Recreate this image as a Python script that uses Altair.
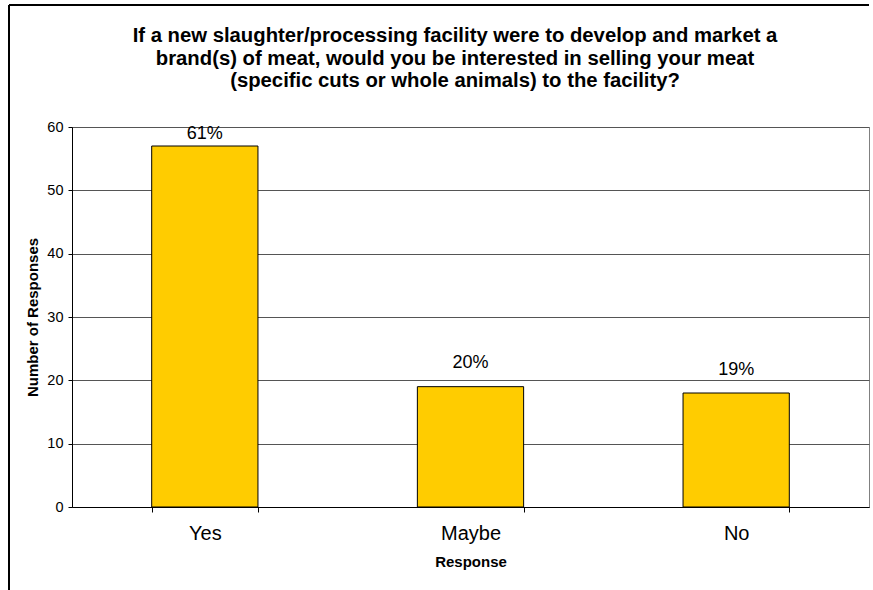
import altair as alt
import pandas as pd

# Survey answers and the number of respondents who gave each one
responses = ["Yes", "Maybe", "No"]
counts = [57, 19, 18]

title_lines = [
    "If a new slaughter/processing facility were to develop and market a",
    "brand(s) of meat, would you be interested in selling your meat",
    "(specific cuts or whole animals) to the facility?",
]

df = pd.DataFrame({"Response": responses, "Count": counts})

FONT = "Liberation Sans"
PLOT_W, PLOT_H = 797, 380

x_enc = alt.X(
    "Response:N",
    sort=responses,
    scale=alt.Scale(paddingInner=0.6, paddingOuter=0.3),
    axis=alt.Axis(
        title="Response",
        labelAngle=0,
        labelFontSize=20,
        labelFont=FONT,
        labelColor="black",
        labelPadding=11,
        tickBand="extent",
        tickSize=5,
        tickColor="black",
        domainColor="black",
        titleFont=FONT,
        titleFontSize=15,
        titleFontWeight="bold",
        titleColor="black",
        titlePadding=11,
        grid=False,
    ),
)

y_enc = alt.Y(
    "Count:Q",
    scale=alt.Scale(domain=[0, 60]),
    axis=alt.Axis(
        title="Number of Responses",
        values=[0, 10, 20, 30, 40, 50, 60],
        labelFontSize=14.5,
        labelFont=FONT,
        labelColor="black",
        labelPadding=5,
        tickSize=4,
        tickColor="black",
        domainColor="black",
        grid=True,
        gridColor="#555555",
        gridWidth=1,
        titleFont=FONT,
        titleFontSize=15,
        titleFontWeight="bold",
        titleColor="black",
        titlePadding=6,
    ),
)

bars = alt.Chart(df).mark_bar(
    color="#FFCC00", stroke="black", strokeWidth=1
).encode(x=x_enc, y=y_enc)

# Share of all responses, written above each bar
labels = (
    alt.Chart(df)
    .transform_joinaggregate(Total="sum(Count)")
    .transform_calculate(
        Pct="round(datum.Count / datum.Total * 100) + '%'",
        LabelY="min(datum.Count + 3.7, 58.9)",
    )
    .mark_text(fontSize=18, font=FONT, color="black", baseline="middle")
    .encode(
        x=alt.X("Response:N", sort=responses),
        y=alt.Y("LabelY:Q"),
        text="Pct:N",
    )
)

# Three-line heading above the plot
heading = alt.Chart(alt.Data(values=[{}])).mark_text(
    font=FONT,
    fontSize=20.3,
    fontWeight="bold",
    color="black",
    align="center",
    baseline="alphabetic",
    lineHeight=22.5,
).encode(x=alt.value(383), y=alt.value(-85), text=alt.value(title_lines))

# Frame lines along the top and left edge of the figure
frame_top = alt.Chart(alt.Data(values=[{}])).mark_rule(
    color="black", strokeWidth=2
).encode(x=alt.value(-63), x2=alt.value(PLOT_W), y=alt.value(-122))

frame_left = alt.Chart(alt.Data(values=[{}])).mark_rule(
    color="black", strokeWidth=2
).encode(x=alt.value(-63), y=alt.value(-122), y2=alt.value(470))

chart = (
    alt.layer(bars, labels, heading, frame_top, frame_left)
    .properties(
        width=PLOT_W,
        height=PLOT_H,
        autosize=alt.AutoSizeParams(type="none"),
        padding={"left": 72, "top": 127, "right": 4, "bottom": 83},
        background="white",
    )
    .configure_view(stroke="#808080", strokeWidth=1)
)

chart.save("out.html", embed_options={"renderer": "svg", "actions": False})
